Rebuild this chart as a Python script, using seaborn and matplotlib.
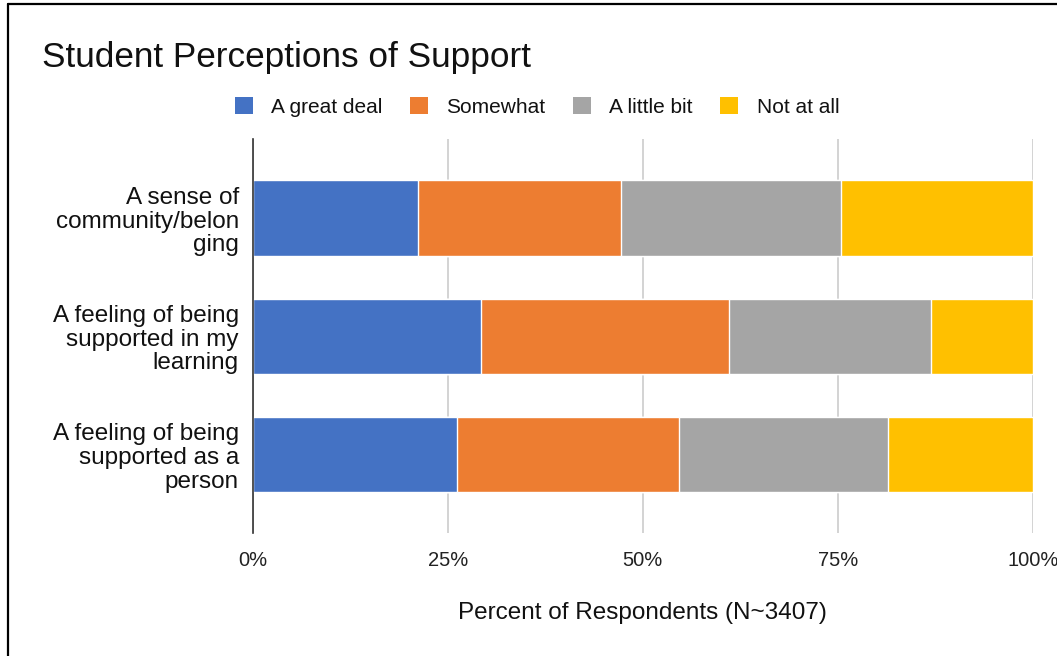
import matplotlib
matplotlib.use("Agg")
import matplotlib.pyplot as plt
import seaborn as sns
import pandas as pd
import numpy as np
from matplotlib.patches import Patch
from matplotlib.lines import Line2D

categories = ["A sense of\ncommunity/belon\nging",
              "A feeling of being\nsupported in my\nlearning",
              "A feeling of being\nsupported as a\nperson"]
series_names = ["A great deal", "Somewhat", "A little bit", "Not at all"]
great_deal = [21.2, 29.3, 26.2]
somewhat = [26.0, 31.7, 28.5]
little_bit = [28.2, 26.0, 26.8]
not_at_all = [24.6, 13.0, 18.5]
colors = ["#4472C4", "#ED7D31", "#A5A5A5", "#FFC000"]
tick_vals = [0, 25, 50, 75, 100]
tick_labels = ["0%", "25%", "50%", "75%", "100%"]

sns.set_theme(style="white")
plt.rcParams['font.family'] = ['Liberation Sans', 'DejaVu Sans']

W, H = 1057, 656
fig = plt.figure(figsize=(W / 100, H / 100), dpi=100)
ax = fig.add_axes([252.7 / W, 1 - 533 / H, (1032.7 - 252.7) / W, (533 - 139) / H])

df = pd.DataFrame({"cat": categories, "g": great_deal, "s": somewhat,
                   "l": little_bit, "n": not_at_all})
segs = [df["g"], df["s"], df["l"], df["n"]]
cum = np.cumsum(np.vstack(segs), axis=0)

for i in range(3, -1, -1):
    d = pd.DataFrame({"cat": categories, "val": cum[i]})
    sns.barplot(data=d, y="cat", x="val", orient="h", color=colors[i],
                width=0.64, saturation=1, ax=ax, zorder=3 + (3 - i))

ax.set_xlim(0, 100)
ax.set_ylim(2.665, -0.671)
ax.set_xticks(tick_vals)
ax.set_xticklabels(tick_labels, fontsize=14.5, color="#222222")
ax.tick_params(axis="x", length=0, pad=13)
ax.tick_params(axis="y", length=0, pad=10, labelsize=17.5, labelcolor="#111111")
for lab in ax.get_yticklabels():
    lab.set_multialignment("right")
    lab.set_linespacing(1.1)
ax.grid(axis="x", color="#cccccc", linewidth=1.2, zorder=0)
ax.set_axisbelow(True)
for s in ["top", "right", "bottom"]:
    ax.spines[s].set_visible(False)
ax.spines["left"].set_color("#333333")
ax.spines["left"].set_linewidth(1.2)
ax.spines["left"].set_zorder(10)
ax.set_ylabel("")
ax.set_xlabel("")
fig.text(642.7 / W, 1 - 613 / H, "Percent of Respondents (N~3407)", fontsize=17.5,
         color="#111111", ha="center", va="center")

fig.text(42 / W, 1 - 57 / H, "Student Perceptions of Support", fontsize=25.3,
         ha="left", va="center", color="#111111")

handles = [Patch(facecolor=c, edgecolor="none") for c in colors]
fig.legend(handles, series_names, loc="center", bbox_to_anchor=(537 / W, 1 - 107 / H),
           ncol=4, frameon=False, fontsize=15.0, handlelength=0.88, handleheight=0.88,
           handletextpad=0.88, columnspacing=1.3, labelcolor="#111111")

fig.add_artist(Line2D([7.5 / W, 7.5 / W], [0, 1 - 4 / H], transform=fig.transFigure,
                      color="black", linewidth=1.6))
fig.add_artist(Line2D([7.5 / W, 1], [1 - 4 / H, 1 - 4 / H], transform=fig.transFigure,
                      color="black", linewidth=1.6))

fig.savefig("out.png", dpi=100, facecolor="white")
